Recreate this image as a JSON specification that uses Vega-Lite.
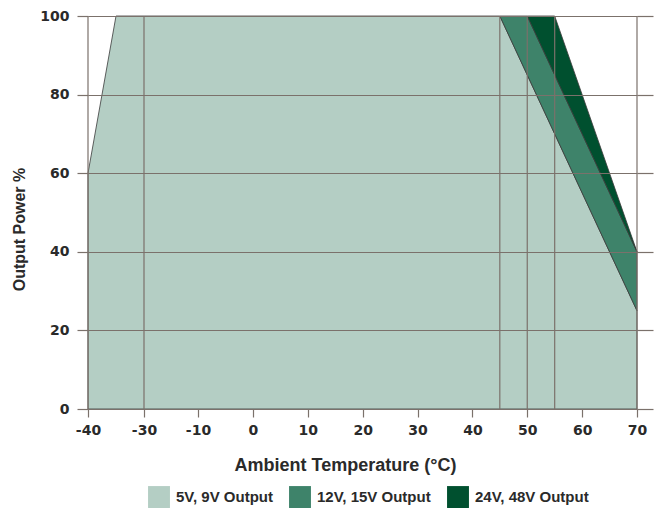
{
  "$schema": "https://vega.github.io/schema/vega-lite/v6.json",
  "width": 549,
  "height": 393,
  "autosize": {"type": "none"},
  "padding": {"left": 88, "top": 16, "right": 23, "bottom": 106},
  "background": "#ffffff",
  "datasets": {
    "curves": [
      {"series": "5V, 9V Output", "temp": -40, "lo": 0, "hi": 60},
      {"series": "5V, 9V Output", "temp": -35, "lo": 0, "hi": 100},
      {"series": "5V, 9V Output", "temp": 45, "lo": 0, "hi": 100},
      {"series": "5V, 9V Output", "temp": 70, "lo": 0, "hi": 25},
      {"series": "12V, 15V Output", "temp": 45, "lo": 100, "hi": 100},
      {"series": "12V, 15V Output", "temp": 50, "lo": 85, "hi": 100},
      {"series": "12V, 15V Output", "temp": 70, "lo": 25, "hi": 40},
      {"series": "24V, 48V Output", "temp": 50, "lo": 100, "hi": 100},
      {"series": "24V, 48V Output", "temp": 55, "lo": 85, "hi": 100},
      {"series": "24V, 48V Output", "temp": 70, "lo": 40, "hi": 40}
    ],
    "vgrid": [
      {"temp": -40}, {"temp": -30}, {"temp": 45}, {"temp": 50}, {"temp": 55}, {"temp": 70}
    ]
  },
  "resolve": {"axis": {"y": "independent"}},
  "layer": [
    {
      "data": {"name": "curves"},
      "mark": {"type": "area", "orient": "vertical", "stroke": "#3a3a3a", "strokeWidth": 0.8, "opacity": 1},
      "encoding": {
        "x": {
          "field": "temp",
          "type": "quantitative",
          "scale": {"domain": [-40, -30, -10, 70], "range": [0, 56, 110, 549], "nice": false, "zero": false},
          "axis": {
            "values": [-40, -30, -10, 0, 10, 20, 30, 40, 50, 60, 70],
            "labelExpr": "'' + datum.value",
            "grid": false,
            "title": "Ambient Temperature (°C)",
            "titleX": 257,
            "titleAlign": "center",
            "domain": true,
            "domainColor": "#7b716b",
            "domainWidth": 1.2,
            "ticks": true,
            "tickColor": "#7b716b",
            "tickWidth": 1.2,
            "tickSize": 8,
            "labelFont": "DejaVu Sans",
            "labelFontSize": 14,
            "labelFontWeight": "bold",
            "labelColor": "#2a2a2a",
            "labelPadding": 6,
            "labelFlush": false,
            "titleFont": "Liberation Sans",
            "titleFontSize": 18,
            "titleFontWeight": "bold",
            "titleColor": "#2a2a2a",
            "titlePadding": 19,
            "zindex": 1
          }
        },
        "y": {
          "field": "lo",
          "type": "quantitative",
          "stack": null,
          "scale": {"domain": [0, 100], "nice": false},
          "axis": {
            "orient": "left",
            "values": [0, 20, 40, 60, 80, 100],
            "grid": true,
            "gridColor": "#7b716b",
            "gridWidth": 1.2,
            "gridOpacity": 1,
            "domain": false,
            "ticks": true,
            "tickColor": "#7b716b",
            "tickWidth": 1.2,
            "tickSize": 11,
            "labelFont": "DejaVu Sans",
            "labelFontSize": 14,
            "labelFontWeight": "bold",
            "labelColor": "#2a2a2a",
            "labelPadding": 8,
            "labelFlush": false,
            "title": "Output Power %",
            "titleY": 213,
            "titleAlign": "center",
            "titleFont": "Liberation Sans",
            "titleFontSize": 16,
            "titleFontWeight": "bold",
            "titleColor": "#2a2a2a",
            "titlePadding": 12,
            "zindex": 1
          }
        },
        "y2": {"field": "hi"},
        "color": {
          "field": "series",
          "type": "nominal",
          "scale": {
            "domain": ["5V, 9V Output", "12V, 15V Output", "24V, 48V Output"],
            "range": ["#b4cec4", "#3e836a", "#00502f"]
          },
          "legend": {
            "orient": "none",
            "direction": "horizontal",
            "legendX": 60,
            "legendY": 470,
            "title": null,
            "symbolType": "square",
            "symbolSize": 480,
            "symbolStrokeWidth": 0,
            "symbolOpacity": 1,
            "labelFont": "Liberation Sans",
            "labelFontSize": 15,
            "labelFontWeight": "bold",
            "labelColor": "#2a2a2a",
            "labelOffset": 6,
            "columnPadding": 16
          }
        }
      }
    },
    {
      "data": {"name": "vgrid"},
      "mark": {"type": "rule", "color": "#7b716b", "strokeWidth": 1.2},
      "encoding": {
        "x": {"field": "temp", "type": "quantitative"}
      }
    },
    {
      "data": {"name": "curves"},
      "mark": {"type": "point", "opacity": 0},
      "encoding": {
        "x": {"field": "temp", "type": "quantitative"},
        "y": {
          "field": "hi",
          "type": "quantitative",
          "axis": {
            "orient": "right",
            "values": [0, 20, 40, 60, 80, 100],
            "grid": false,
            "domain": false,
            "labels": false,
            "ticks": true,
            "tickColor": "#7b716b",
            "tickWidth": 1.2,
            "tickSize": 16,
            "title": null
          }
        }
      }
    }
  ],
  "config": {
    "view": {"stroke": null}
  }
}
